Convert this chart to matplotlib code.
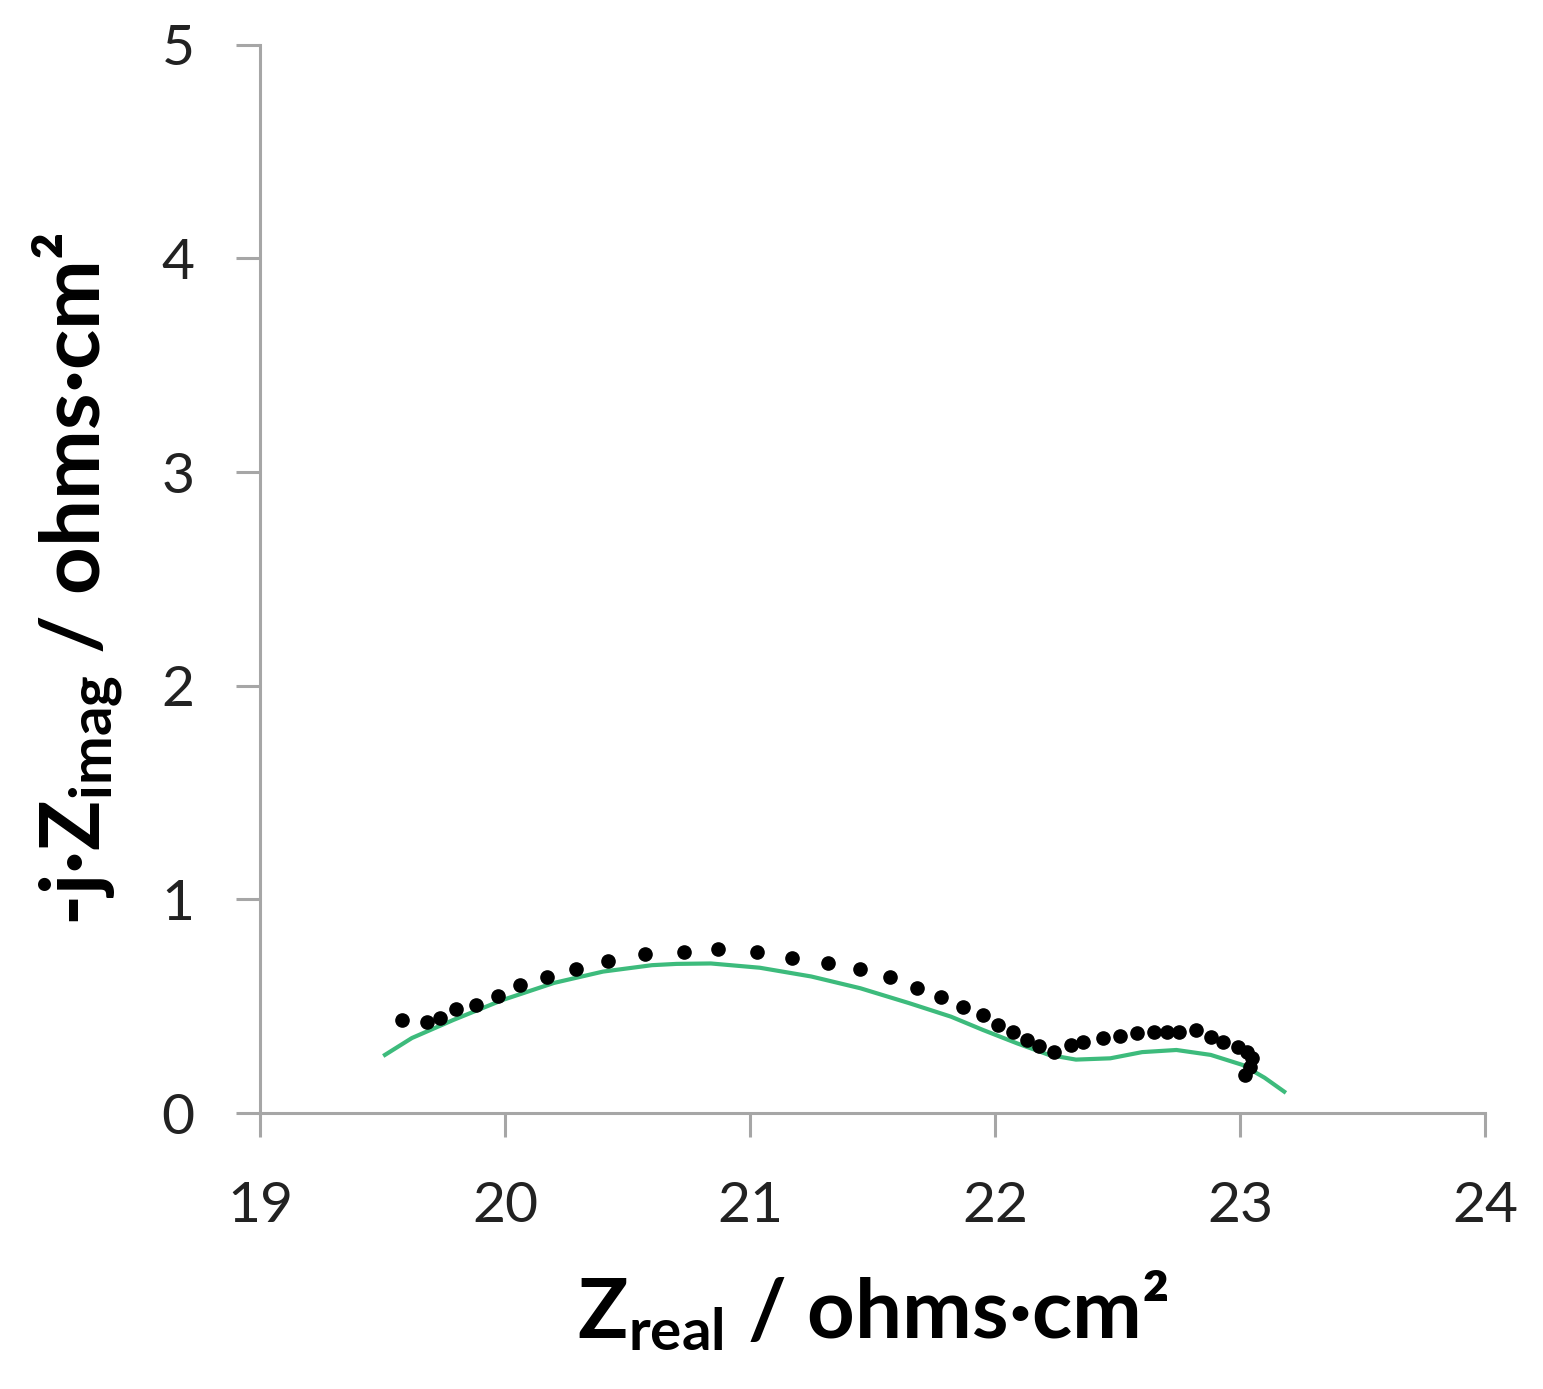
import matplotlib.pyplot as plt

plt.rcParams["font.family"] = ["Lato", "DejaVu Sans"]
plt.rcParams["mathtext.fontset"] = "custom"
plt.rcParams["mathtext.rm"] = "Lato"
plt.rcParams["mathtext.bf"] = "Lato:bold"
plt.rcParams["mathtext.it"] = "Lato:italic"

# Measured impedance (dots)
z_real = [19.58, 19.68, 19.735, 19.80, 19.88, 19.97, 20.06, 20.17, 20.29, 20.42,
          20.57, 20.73, 20.87, 21.03, 21.17, 21.32, 21.45, 21.57, 21.68, 21.78,
          21.87, 21.95, 22.01, 22.075, 22.13, 22.18, 22.24, 22.31, 22.36, 22.44,
          22.51, 22.58, 22.65, 22.70, 22.75, 22.82, 22.88, 22.93, 22.99, 23.03,
          23.05, 23.04, 23.02]
z_imag = [0.436, 0.428, 0.444, 0.486, 0.506, 0.548, 0.600, 0.636, 0.673, 0.713,
          0.743, 0.756, 0.767, 0.753, 0.725, 0.704, 0.673, 0.635, 0.584, 0.545,
          0.498, 0.459, 0.412, 0.381, 0.342, 0.314, 0.287, 0.319, 0.334, 0.350,
          0.361, 0.373, 0.381, 0.381, 0.381, 0.389, 0.357, 0.334, 0.311, 0.287,
          0.256, 0.217, 0.178]

# Fitted model (green line)
fit_real = [19.51, 19.62, 19.79, 19.99, 20.20, 20.40, 20.60, 20.70, 20.84, 21.04,
            21.25, 21.45, 21.65, 21.82, 21.95, 22.09, 22.22, 22.33, 22.47, 22.60,
            22.74, 22.88, 23.01, 23.10, 23.18]
fit_imag = [0.272, 0.351, 0.436, 0.529, 0.609, 0.662, 0.692, 0.698, 0.700, 0.680,
            0.639, 0.584, 0.514, 0.451, 0.389, 0.326, 0.272, 0.250, 0.256, 0.285,
            0.295, 0.272, 0.225, 0.165, 0.100]

fig = plt.figure(figsize=(15.43, 13.89), dpi=100)
ax = fig.add_axes([0.1685, 0.1987, 0.794, 0.769])

ax.plot(fit_real, fit_imag, color="#3dbb7c", lw=3, zorder=2,
        solid_joinstyle="round")
ax.plot(z_real, z_imag, "o", color="black", ms=9.5, zorder=3)

ax.set_xlim(19, 24)
ax.set_ylim(0, 5)
ax.set_xticks(range(19, 25))
ax.set_yticks(range(0, 6))

for s in ["top", "right"]:
    ax.spines[s].set_visible(False)
for s in ["left", "bottom"]:
    ax.spines[s].set_color("#a6a6a6")
    ax.spines[s].set_linewidth(2.2)

ax.tick_params(direction="out", length=17, width=2.2, color="#a6a6a6",
               labelsize=41, labelcolor="#222222")
ax.tick_params(axis="x", pad=32)
ax.tick_params(axis="y", pad=30)

ax.set_xlabel(r"$\mathbf{Z}_{\mathbf{real}}$ / ohms·cm²", fontsize=60,
              fontweight="bold", labelpad=26)
ax.set_ylabel(r"-j·$\mathbf{Z}_{\mathbf{imag}}$ / ohms·cm²", fontsize=60,
              fontweight="bold", labelpad=26)

fig.savefig("out.png", dpi=100)
